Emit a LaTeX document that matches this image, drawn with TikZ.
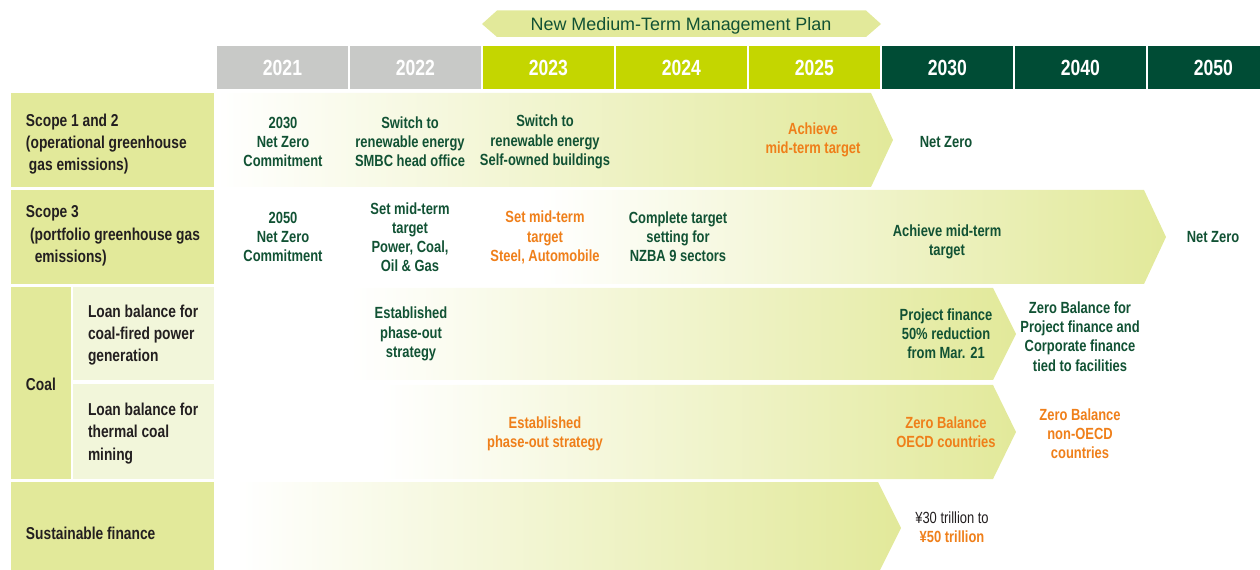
\documentclass[tikz,border=0pt]{standalone}
\usepackage{fontspec}
\setmainfont{Liberation Sans}
\newfontfamily\narrow[FakeStretch=0.8]{Liberation Sans}
\definecolor{pale}{HTML}{E2E99A}
\definecolor{paler}{HTML}{F2F6DA}
\definecolor{lime}{HTML}{C4D600}
\definecolor{stone}{HTML}{C8C9C7}
\definecolor{forest}{HTML}{004C35}
\definecolor{leaf}{HTML}{115234}
\definecolor{amber}{HTML}{EF7F1A}
\definecolor{ink}{HTML}{231F20}
\begin{document}
\begin{tikzpicture}[x=0.02cm,y=-0.02cm]
	\tikzstyle{every node}=[inner sep=0pt,outer sep=0pt]
	\tikzstyle{yr}  =[minimum width=2.62cm,minimum height=0.86cm,text=white,font=\narrow\bfseries\fontsize{12.5}{14}\selectfont] % year cell
	\tikzstyle{past}=[fill=stone]  % years gone by
	\tikzstyle{plan}=[fill=lime]   % medium-term plan years
	\tikzstyle{goal}=[fill=forest] % long-range years
	\tikzstyle{lbl} =[anchor=west,align=left,text=ink,font=\narrow\bfseries\fontsize{9.8}{12.75}\selectfont] % row heading
	\tikzstyle{txt} =[align=center,text=leaf,font=\narrow\bfseries\fontsize{9.2}{10.9}\selectfont] % milestone
	\tikzstyle{hl}  =[text=amber]  % highlighted milestone
	\tikzstyle{band}=[left color=white,right color=pale]
	\useasboundingbox (0,0) rectangle (1260,570);
	% plan banner
	\fill[pale] (482,24) -- (497,10.5) -- (866,10.5) -- (881,24) -- (866,37) -- (497,37) -- cycle;
	\node(mtp)[text=leaf,font=\fontsize{10.2}{12}\selectfont] at (681,25.5) {New Medium-Term Management Plan};
	% years
	\matrix(years) [anchor=north west,column sep=0.04cm] at (217,46)
	{
	 \node(y2021)[yr,past]{2021} ;& \node(y2022)[yr,past]{2022} ;& \node(y2023)[yr,plan]{2023} ;& \node(y2024)[yr,plan]{2024} ;&
	 \node(y2025)[yr,plan]{2025} ;& \node(y2030)[yr,goal]{2030} ;& \node(y2040)[yr,goal]{2040} ;& \node(y2050)[yr,goal]{2050} ;\\
	};
	% row headings
	\fill[pale]  (11,93) rectangle (214,187);
	\fill[pale]  (11,190) rectangle (214,284);
	\fill[pale]  (11,287) rectangle (71,479);
	\fill[paler] (73,287) rectangle (214,380);
	\fill[paler] (73,384) rectangle (214,479);
	\fill[pale]  (11,482) rectangle (214,575);
	\node(s12)[lbl] at (26,144) {Scope 1 and 2\\(operational greenhouse\\\hspace*{1.7pt}gas emissions)};
	\node(s3)[lbl] at (26,236) {Scope 3\\\hspace*{2.3pt}(portfolio greenhouse gas\\\hspace*{5pt}emissions)};
	\node(coal)[lbl] at (26,384) {Coal};
	\node(cpow)[lbl] at (88,335) {Loan balance for\\coal-fired power\\generation};
	\node(cmin)[lbl] at (88,433.5) {Loan balance for\\thermal coal\\mining};
	\node(sf)[lbl] at (26,533) {Sustainable finance};
	% progress arrows
	\shade[band] (217,93) -- (871,93) -- (893,140) -- (871,187) -- (217,187) -- cycle;
	\shade[band] (540,190) -- (1144,190) -- (1166,237) -- (1144,284) -- (540,284) -- cycle;
	\shade[band] (350,288) -- (993,288) -- (1016,334) -- (993,380) -- (350,380) -- cycle;
	\shade[band] (380,385) -- (993,385) -- (1016,432) -- (993,479) -- (380,479) -- cycle;
	\shade[band] (236,482) -- (878,482) -- (901,528) -- (878,574) -- (236,574) -- cycle;
	% scope 1 and 2
	\node(a1)[txt] at (283,142) {2030\\Net Zero\\Commitment};
	\node(a2)[txt] at (410,142) {Switch to\\renewable energy\\SMBC head office};
	\node(a3)[txt] at (545,142) {Switch to\\renewable energy\\Self-owned buildings};
	\node(a4)[txt,hl] at (813,140) {Achieve\\mid-term target};
	\node(a5)[txt] at (946,142) {Net Zero};
	% scope 3
	\node(b1)[txt] at (283,237) {2050\\Net Zero\\Commitment};
	\node(b2)[txt] at (410,237) {Set mid-term\\target\\Power, Coal,\\Oil \& Gas};
	\node(b3)[txt,hl] at (545,237.5) {Set mid-term\\target\\Steel, Automobile};
	\node(b4)[txt] at (678,237) {Complete target\\setting for\\NZBA 9 sectors};
	\node(b5)[txt] at (947,241.5) {Achieve mid-term\\target};
	\node(b6)[txt] at (1213,237) {Net Zero};
	% coal
	\node(c1)[txt] at (411,334) {Established\\phase-out\\strategy};
	\node(c2)[txt] at (946,333.5) {Project finance\\50\% reduction\\from Mar. 21};
	\node(c3)[txt] at (1080,336.5) {Zero Balance for\\Project finance and\\Corporate finance\\tied to facilities};
	\node(d1)[txt,hl] at (545,433.5) {Established\\phase-out strategy};
	\node(d2)[txt,hl] at (946,432.5) {Zero Balance\\OECD countries};
	\node(d3)[txt,hl] at (1080,434) {Zero Balance\\non-OECD\\countries};
	% sustainable finance
	\node(e1)[txt,text=ink] at (952,527) {{\mdseries ¥30 trillion to}\\\textcolor{amber}{¥50 trillion}};
\end{tikzpicture}
\end{document}
